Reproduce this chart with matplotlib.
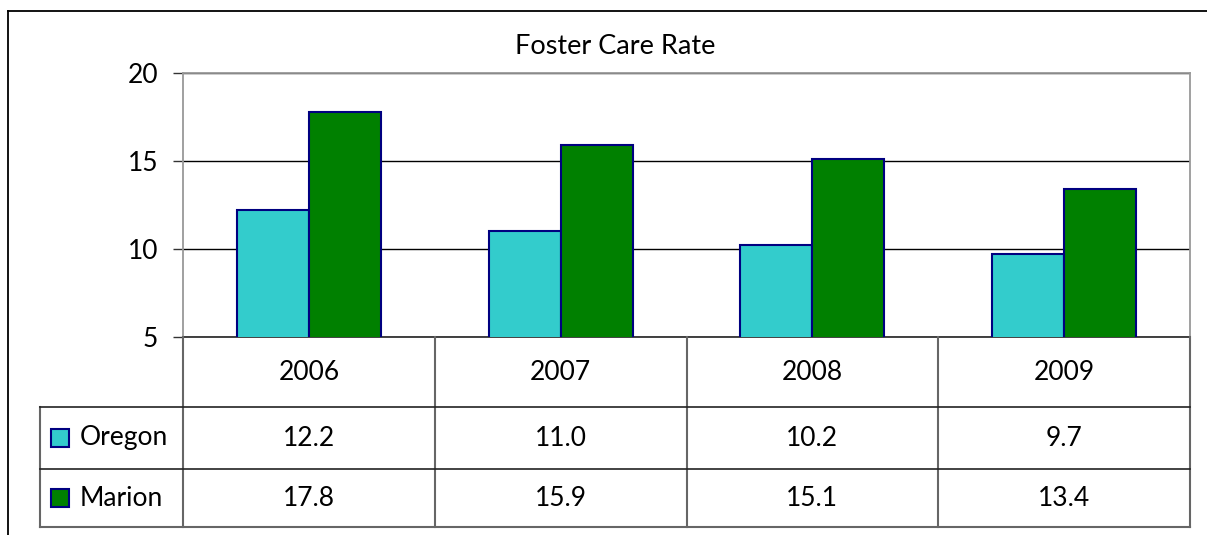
import numpy as np
import matplotlib.pyplot as plt
from matplotlib.lines import Line2D

plt.rcParams['font.family'] = ['Lato', 'DejaVu Sans']

years = ['2006', '2007', '2008', '2009']
oregon = [12.2, 11.0, 10.2, 9.7]
marion = [17.8, 15.9, 15.1, 13.4]
series_names = ['Oregon', 'Marion']
colors = ['#33CCCC', '#008000']
edge = '#000080'

W, H = 1207, 535
fig = plt.figure(figsize=(W/100, H/100), dpi=100)

def frac(x0, y0, x1, y1):
    # pixel box (top-left origin) -> figure fractions
    return [x0/W, 1 - y1/H, (x1-x0)/W, (y1-y0)/H]

# outer frame (top and left edges only visible)
fig.add_artist(Line2D([8/W, 1], [1-11/H, 1-11/H], color='black', lw=1.3))
fig.add_artist(Line2D([8/W, 8/W], [0, 1-11/H], color='black', lw=1.3))

fig.text(615/W, 1-46/H, 'Foster Care Rate', ha='center', va='center', fontsize=19.5)

# bar chart area
ax = fig.add_axes(frac(183, 73, 1190, 337))
x = np.arange(len(years))
bw = 0.286
ax.bar(x - bw/2, oregon, bw, bottom=0, color=colors[0], edgecolor=edge, linewidth=1.5, zorder=3)
ax.bar(x + bw/2, marion, bw, bottom=0, color=colors[1], edgecolor=edge, linewidth=1.5, zorder=3)
ax.set_xlim(-0.5, len(years) - 0.5)
ax.set_ylim(5, 20)
ax.set_yticks([5, 10, 15, 20])
ax.set_xticks([])
ax.yaxis.grid(True, color='black', lw=1)
ax.set_axisbelow(True)
ax.tick_params(axis='y', length=7, width=1, pad=11, labelsize=19, color='#333333')
for s in ['left', 'right', 'top']:
    ax.spines[s].set_color('#999999')
    ax.spines[s].set_linewidth(1.3)
ax.spines['bottom'].set_color('#333333')
ax.spines['bottom'].set_linewidth(1.3)

# data table under the chart, sharing the category x scale
col_px = (1190 - 183) / len(years)
x_left = -0.5 - (183 - 40) / col_px
tb = fig.add_axes(frac(40, 337, 1190, 527))
tb.set_xlim(x_left, len(years) - 0.5)
tb.set_ylim(190, 0)
tb.axis('off')

row_edges = [0, 70, 132, 190]
vcol = '#666666'
for b in np.arange(len(years) + 1) - 0.5:
    tb.plot([b, b], [0, 190], color=vcol, lw=1.5, clip_on=False)
tb.plot([x_left, x_left], [70, 190], color=vcol, lw=1.5, clip_on=False)
tb.plot([x_left, len(years) - 0.5], [70, 70], color='#222222', lw=1.2, clip_on=False)
tb.plot([x_left, len(years) - 0.5], [132, 132], color='#222222', lw=1.2, clip_on=False)
tb.plot([x_left, len(years) - 0.5], [190, 190], color=vcol, lw=1.5, clip_on=False)

for i, yr in enumerate(years):
    tb.text(i, 35, yr, ha='center', va='center', fontsize=19)

for r, (name, vals, c) in enumerate(zip(series_names, [oregon, marion], colors)):
    yc = (row_edges[r + 1] + row_edges[r + 2]) / 2
    tb.plot([x_left + 0.078], [yc], marker='s', ms=13, mfc=c, mec=edge, mew=1.5, clip_on=False)
    tb.text(x_left + 0.158, yc, name, ha='left', va='center', fontsize=19)
    for i, v in enumerate(vals):
        tb.text(i, yc, f'{v:.1f}', ha='center', va='center', fontsize=19)

fig.savefig('out.png', dpi=100)
